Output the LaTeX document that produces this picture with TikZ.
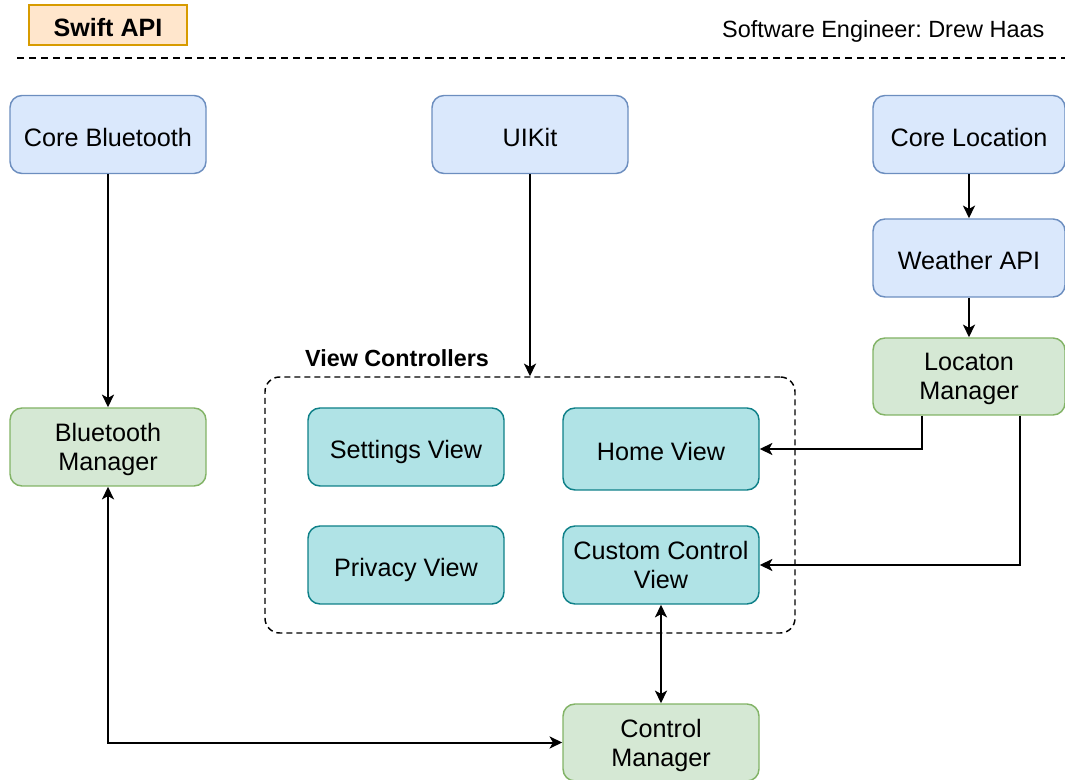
\documentclass[tikz,border=0pt]{standalone}
\usepackage{fontspec}
\setmainfont{Liberation Sans}
\frenchspacing
\usetikzlibrary{arrows.meta,calc}
\definecolor{apifill}{HTML}{DAE8FC}
\definecolor{apidraw}{HTML}{6C8EBF}
\definecolor{mgrfill}{HTML}{D5E8D4}
\definecolor{mgrdraw}{HTML}{82B366}
\definecolor{viewfill}{HTML}{B0E3E6}
\definecolor{viewdraw}{HTML}{0E8088}
\definecolor{tagfill}{HTML}{FFE6CC}
\definecolor{tagdraw}{HTML}{D79B00}
\tikzset{
  struts/.style={execute at begin node={\rule{0pt}{21.5pt}}, execute at end node={\rule[-4.1pt]{0pt}{0pt}}},
  twolines/.style={text depth=-3.4pt},
  box/.style={draw, rounded corners=9pt, line width=1.1pt, minimum width=147pt,
    minimum height=58.5pt, align=center, inner sep=2pt, struts,
    font=\fontsize{18.9}{21.75}\selectfont},
  apibox/.style={box, fill=apifill, draw=apidraw},
  mgrbox/.style={box, fill=mgrfill, draw=mgrdraw},
  viewbox/.style={box, fill=viewfill, draw=viewdraw},
  link/.style={line width=1.5pt, -{Stealth[length=9.5pt,width=9pt,inset=2.5pt]}},
  twolink/.style={line width=1.5pt, {Stealth[length=9.5pt,width=9pt,inset=2.5pt]}-{Stealth[length=9.5pt,width=9pt,inset=2.5pt]}}
}
\begin{document}
\begin{tikzpicture}[x=0.75pt,y=-0.75pt]
\useasboundingbox (0,0) rectangle (1065,780);

\node[draw=tagdraw, fill=tagfill, line width=1.1pt, minimum width=118.5pt, minimum height=30pt, inner sep=1pt, struts,
  font=\bfseries\fontsize{18.8}{22}\selectfont] (swift) at (108,25) {Swift API};
\node[anchor=east, inner sep=1pt, struts, font=\fontsize{17.6}{21}\selectfont] (eng) at (1046,26) {Software Engineer: Drew Haas};
\draw[dash pattern=on 5.5pt off 3.5pt, line width=1.1pt] (17,58) -- (1065,58);

\node[apibox] (corebt) at (108,134.5) {Core Bluetooth};
\node[apibox] (uikit) at (530,134.5) {UIKit};
\node[apibox, minimum width=144pt] (coreloc) at (969,134.5) {Core Location};
\node[apibox, minimum width=144pt] (weather) at (969,258) {Weather API};
\node[mgrbox, twolines, minimum width=144pt, minimum height=57.75pt] (locmgr) at (969,376.5) {Locaton\\Manager};
\node[mgrbox, twolines] (btmgr) at (108,447) {Bluetooth\\Manager};

\node[draw, dash pattern=on 4.5pt off 3pt, line width=1.1pt, rounded corners=11pt,
  minimum width=397.5pt, minimum height=192pt] (vc) at (530,505) {};
\node[font=\bfseries\fontsize{17.5}{21}\selectfont] (vclabel) at (397,358) {View Controllers};

\node[viewbox] (settings) at (406,447) {Settings View};
\node[viewbox, minimum height=61.5pt] (home) at (661,449) {Home View};
\node[viewbox] (privacy) at (406,565) {Privacy View};
\node[viewbox, twolines] (custom) at (661,565) {Custom Control\\View};
\node[mgrbox, twolines, minimum height=57.75pt] (ctrlmgr) at (661,742.5) {Control\\Manager};

\draw[link] (corebt) -- (btmgr);
\draw[link] (uikit) -- (vc.north);
\draw[link] (coreloc) -- (weather);
\draw[link] (weather) -- (locmgr);
\draw[link] ($(locmgr.south)+(-47,0)$) |- (home.east);
\draw[link] ($(locmgr.south)+(51,0)$) |- (custom.east);
\draw[twolink] (custom) -- (ctrlmgr);
\draw[twolink] (btmgr.south) |- (ctrlmgr.west);
\end{tikzpicture}
\end{document}
